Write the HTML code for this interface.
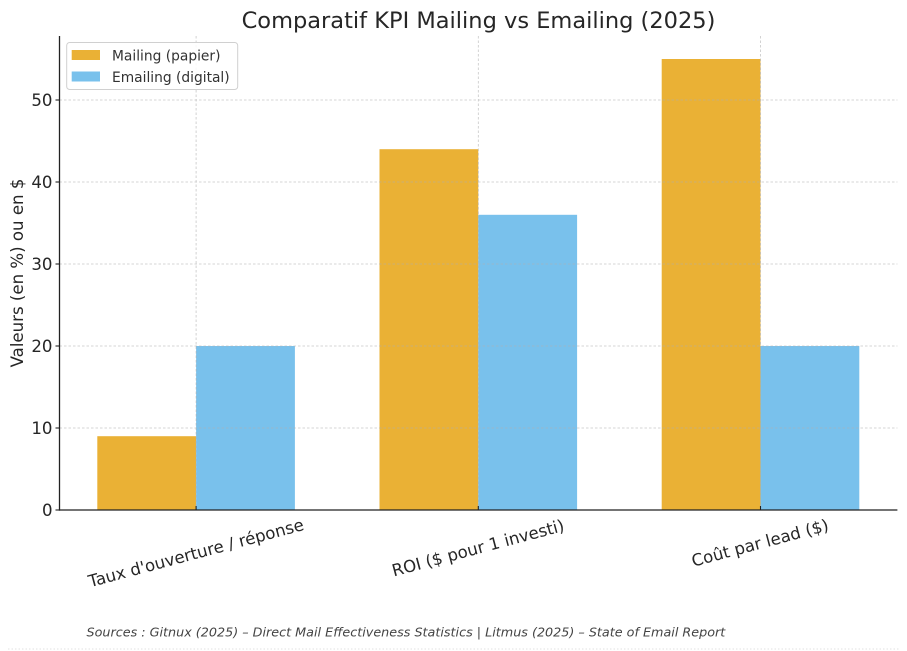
<!DOCTYPE html>
<html><head><meta charset="utf-8"><style>
html,body{margin:0;padding:0;background:#fff;}
svg{display:block;font-family:"DejaVu Sans","Liberation Sans",sans-serif;}
</style></head><body>
<svg width="907" height="651" viewBox="0 0 907 651" xmlns="http://www.w3.org/2000/svg">
<rect width="907" height="651" fill="#fff"/>
<!-- title -->
<text x="478.5" y="28" font-size="22.5" text-anchor="middle" fill="#262626">Comparatif KPI Mailing vs Emailing (2025)</text>
<!-- bars -->
<g>
<rect x="97.3" y="436.2" width="98.8" height="73.8" fill="#EAB135"/>
<rect x="196.1" y="346" width="98.8" height="164" fill="#79C1EC"/>
<rect x="379.5" y="149.2" width="98.8" height="360.8" fill="#EAB135"/>
<rect x="478.3" y="214.8" width="98.8" height="295.2" fill="#79C1EC"/>
<rect x="661.7" y="59" width="98.8" height="451" fill="#EAB135"/>
<rect x="760.5" y="346" width="98.8" height="164" fill="#79C1EC"/>
</g>
<!-- grid -->
<g stroke="#b0b0b0" stroke-width="0.8" stroke-dasharray="2.5,2" opacity="0.7">
<line x1="59.5" y1="428" x2="897.4" y2="428"/>
<line x1="59.5" y1="346" x2="897.4" y2="346"/>
<line x1="59.5" y1="264" x2="897.4" y2="264"/>
<line x1="59.5" y1="182" x2="897.4" y2="182"/>
<line x1="59.5" y1="100" x2="897.4" y2="100"/>
<line x1="196.1" y1="36" x2="196.1" y2="510"/>
<line x1="478.3" y1="36" x2="478.3" y2="510"/>
<line x1="760.5" y1="36" x2="760.5" y2="510"/>
</g>
<!-- spines -->
<line x1="59.5" y1="36" x2="59.5" y2="510.6" stroke="#222" stroke-width="1.3"/>
<line x1="58.9" y1="510" x2="897.4" y2="510" stroke="#222" stroke-width="1.3"/>
<!-- ticks -->
<g stroke="#222" stroke-width="1.1">
<line x1="55.5" y1="510" x2="59.5" y2="510"/>
<line x1="55.5" y1="428" x2="59.5" y2="428"/>
<line x1="55.5" y1="346" x2="59.5" y2="346"/>
<line x1="55.5" y1="264" x2="59.5" y2="264"/>
<line x1="55.5" y1="182" x2="59.5" y2="182"/>
<line x1="55.5" y1="100" x2="59.5" y2="100"/>
<line x1="196.1" y1="506" x2="196.1" y2="510"/>
<line x1="478.3" y1="506" x2="478.3" y2="510"/>
<line x1="760.5" y1="506" x2="760.5" y2="510"/>
</g>
<g font-size="16.6" fill="#262626" text-anchor="end">
<text x="52.5" y="516">0</text>
<text x="52.5" y="434">10</text>
<text x="52.5" y="352">20</text>
<text x="52.5" y="270">30</text>
<text x="52.5" y="188">40</text>
<text x="52.5" y="106">50</text>
</g>
<!-- y label -->
<text transform="translate(23,273) rotate(-90)" font-size="16.6" fill="#262626" text-anchor="middle">Valeurs (en %) ou en $</text>
<!-- x labels -->
<g font-size="16.6" fill="#262626" text-anchor="middle">
<text transform="translate(196,553) rotate(-15)" y="5.7">Taux d'ouverture / réponse</text>
<text transform="translate(478,548) rotate(-15)" y="5.7">ROI ($ pour 1 investi)</text>
<text transform="translate(760,543) rotate(-15)" y="5.7">Coût par lead ($)</text>
</g>
<!-- legend -->
<rect x="66.7" y="42.5" width="171" height="47" rx="3" ry="3" fill="#fff" fill-opacity="0.85" stroke="#d0d0d0" stroke-width="1"/>
<rect x="71.7" y="50" width="28.3" height="10" fill="#EAB135"/>
<rect x="71.7" y="71.5" width="28.3" height="10" fill="#79C1EC"/>
<g font-size="13.8" fill="#333">
<text x="112" y="60.5">Mailing (papier)</text>
<text x="112" y="82">Emailing (digital)</text>
</g>
<!-- source -->
<text x="86.5" y="636.5" font-size="12.75" font-style="italic" fill="#444">Sources : Gitnux (2025) – Direct Mail Effectiveness Statistics | Litmus (2025) – State of Email Report</text>
<line x1="8" y1="649" x2="900" y2="649" stroke="#d8d8d8" stroke-width="0.8" stroke-dasharray="1.5,2"/>
</svg>
</body></html>
